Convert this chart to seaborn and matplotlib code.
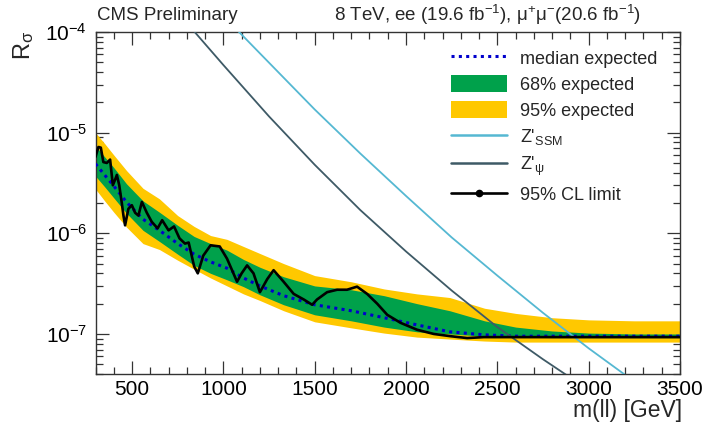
import matplotlib
matplotlib.use("Agg")
import matplotlib.pyplot as plt
import seaborn as sns
from matplotlib.lines import Line2D
from matplotlib.patches import Patch
from matplotlib.ticker import MultipleLocator, LogLocator, NullFormatter

# expected limit bands
mass_exp = [300, 350, 400, 470, 560, 650, 750, 840, 930, 1020, 1110, 1200,
            1330, 1500, 1700, 1880, 2060, 2240, 2430, 2600, 2800, 3000, 3250, 3500]
median_exp = [4.9e-6, 3.8e-6, 2.95e-6, 2.04e-6, 1.38e-6, 1.07e-6, 7.9e-7, 6.2e-7,
              5.2e-7, 4.5e-7, 3.6e-7, 3.0e-7, 2.4e-7, 1.95e-7, 1.7e-7, 1.45e-7,
              1.23e-7, 1.05e-7, 9.8e-8, 9.5e-8, 9.5e-8, 9.5e-8, 9.5e-8, 9.5e-8]
up95 = [1.0e-5, 7.8e-6, 6.0e-6, 4.2e-6, 2.8e-6, 2.2e-6, 1.5e-6, 1.17e-6, 9.5e-7,
        8.7e-7, 7.4e-7, 6.3e-7, 5.0e-7, 3.8e-7, 3.3e-7, 2.8e-7, 2.5e-7, 2.3e-7,
        1.8e-7, 1.6e-7, 1.45e-7, 1.38e-7, 1.35e-7, 1.35e-7]
up68 = [7.4e-6, 5.75e-6, 4.5e-6, 3.1e-6, 2.1e-6, 1.62e-6, 1.2e-6, 9.3e-7, 7.9e-7,
        6.8e-7, 5.5e-7, 4.6e-7, 3.7e-7, 3.0e-7, 2.75e-7, 2.4e-7, 2.0e-7, 1.7e-7,
        1.35e-7, 1.17e-7, 1.07e-7, 1.02e-7, 1.0e-7, 1.0e-7]
lo68 = [3.7e-6, 2.9e-6, 2.25e-6, 1.58e-6, 1.07e-6, 8.3e-7, 6.2e-7, 4.8e-7, 4.0e-7,
        3.45e-7, 2.95e-7, 2.45e-7, 1.95e-7, 1.55e-7, 1.35e-7, 1.17e-7, 1.05e-7,
        1.0e-7, 9.5e-8, 9.3e-8, 9.2e-8, 9.2e-8, 9.2e-8, 9.2e-8]
lo95 = [2.75e-6, 2.1e-6, 1.62e-6, 1.15e-6, 7.9e-7, 6.9e-7, 5.4e-7, 4.4e-7, 3.6e-7,
        3.0e-7, 2.5e-7, 2.15e-7, 1.7e-7, 1.32e-7, 1.15e-7, 1.02e-7, 9.3e-8, 8.9e-8,
        8.5e-8, 8.3e-8, 8.3e-8, 8.3e-8, 8.3e-8, 8.3e-8]

# observed 95% CL limit
mass_obs = [300, 316, 329, 343, 362, 380, 395, 407, 417, 430, 444, 453, 462, 480,
            499, 517, 535, 554, 581, 608, 640, 665, 700, 730, 760, 790, 810, 840,
            860, 890, 930, 980, 1020, 1050, 1075, 1100, 1130, 1165, 1200, 1240,
            1275, 1330, 1385, 1440, 1486, 1513, 1568, 1623, 1677, 1732, 1787,
            1842, 1897, 1970, 2061, 2152, 2243, 2335, 2426, 2517, 2700, 2900,
            3100, 3300, 3420, 3500]
limit_obs = [5.75e-6, 7.2e-6, 7.1e-6, 5.1e-6, 5.0e-6, 5.4e-6, 3.0e-6, 3.4e-6,
             3.8e-6, 3.0e-6, 2.0e-6, 1.5e-6, 1.2e-6, 1.75e-6, 1.9e-6, 1.6e-6,
             1.5e-6, 2.05e-6, 1.6e-6, 1.3e-6, 1.12e-6, 1.35e-6, 1.07e-6, 1.17e-6,
             8.9e-7, 7.9e-7, 8.1e-7, 4.7e-7, 4.0e-7, 6.0e-7, 7.6e-7, 7.4e-7,
             5.6e-7, 4.2e-7, 3.3e-7, 4.0e-7, 4.8e-7, 4.0e-7, 2.6e-7, 3.5e-7,
             4.3e-7, 3.3e-7, 2.5e-7, 2.2e-7, 1.95e-7, 2.2e-7, 2.6e-7, 2.75e-7,
             2.75e-7, 2.95e-7, 2.5e-7, 2.0e-7, 1.55e-7, 1.29e-7, 1.10e-7, 1.0e-7,
             9.5e-8, 9.1e-8, 9.3e-8, 9.3e-8, 9.3e-8, 9.3e-8, 9.3e-8, 9.3e-8,
             9.3e-8, 9.3e-8]

# theory curves
mass_ssm = [1000, 1086, 1300, 1500, 1750, 2000, 2250, 2500, 2750, 3000, 3193, 3250]
xsec_ssm = [1.4e-4, 1.0e-4, 4.0e-5, 1.7e-5, 6.2e-6, 2.35e-6, 9.1e-7, 3.8e-7,
            1.62e-7, 7.2e-8, 4.0e-8, 3.3e-8]
mass_psi = [800, 1000, 1250, 1500, 1750, 2000, 2250, 2500, 2750, 2950]
xsec_psi = [1.23e-4, 4.7e-5, 1.45e-5, 4.8e-6, 1.7e-6, 6.6e-7, 2.7e-7, 1.17e-7,
            5.6e-8, 3.2e-8]

c_green = "#00a14b"
c_yellow = "#ffc800"
c_blue = "#0000cc"
c_ssm = "#55b8d2"
c_psi = "#3e5a66"

sns.set_theme(style="ticks")
plt.rcParams["font.family"] = ["Liberation Sans", "DejaVu Sans"]
plt.rcParams["mathtext.fontset"] = "custom"
plt.rcParams["mathtext.rm"] = "Liberation Sans"
plt.rcParams["mathtext.it"] = "Liberation Sans:italic"
plt.rcParams["mathtext.default"] = "regular"

fig = plt.figure(figsize=(7.09, 4.25), dpi=100)
ax = fig.add_axes([95.5 / 709, 51 / 425, 584.5 / 709, 342 / 425])
ax.set_yscale("log")

ax.fill_between(mass_exp, lo95, up95, color=c_yellow, lw=0, zorder=1)
ax.fill_between(mass_exp, lo68, up68, color=c_green, lw=0, zorder=2)
sns.lineplot(x=mass_exp, y=median_exp, ax=ax, color=c_blue, lw=2.2,
             linestyle=(0, (1, 1.4)), estimator=None, zorder=3)
sns.lineplot(x=mass_ssm, y=xsec_ssm, ax=ax, color=c_ssm, lw=1.3,
             estimator=None, zorder=4)
sns.lineplot(x=mass_psi, y=xsec_psi, ax=ax, color=c_psi, lw=1.3,
             estimator=None, zorder=4)
sns.lineplot(x=mass_obs, y=limit_obs, ax=ax, color="black", lw=1.9,
             estimator=None, zorder=5)

ax.set_xlim(300, 3500)
ax.set_ylim(4e-8, 1e-4)
ax.xaxis.set_major_locator(MultipleLocator(500))
ax.xaxis.set_minor_locator(MultipleLocator(100))
ax.yaxis.set_major_locator(LogLocator(base=10, numticks=10))
ax.yaxis.set_minor_locator(LogLocator(base=10, subs=range(2, 10), numticks=20))
ax.yaxis.set_minor_formatter(NullFormatter())
ax.tick_params(which="both", direction="in", top=True, right=True, colors="#333333")
ax.tick_params(which="major", length=9.5, width=0.9, labelsize=15, labelcolor="black")
ax.tick_params(which="minor", length=4.8, width=0.9)
ax.tick_params(axis="x", pad=4)
ax.tick_params(axis="y", pad=6)
for s in ax.spines.values():
    s.set_color("#333333")
    s.set_linewidth(1.0)
ax.set_xlabel("")
ax.set_ylabel("")

fig.text(24 / 709, 1 - 45 / 425, r"R$_\sigma$", rotation=90, ha="center",
         va="center", fontsize=17)
fig.text(682 / 709, 1 - 410 / 425, "m(ll) [GeV]", ha="right", va="center",
         fontsize=16.5)
fig.text(97 / 709, 1 - 15 / 425, "CMS Preliminary", ha="left", va="center",
         fontsize=13.5)
fig.text(641 / 709, 1 - 15 / 425,
         r"8 TeV, ee (19.6 fb$^{-1}$), $\mu^{+}\mu^{-}$(20.6 fb$^{-1}$)",
         ha="right", va="center", fontsize=13.5)

handles = [
    Line2D([], [], color=c_blue, lw=2.2, linestyle=(0, (1, 1.4))),
    Patch(facecolor=c_green, edgecolor="none"),
    Patch(facecolor=c_yellow, edgecolor="none"),
    Line2D([], [], color=c_ssm, lw=1.8),
    Line2D([], [], color=c_psi, lw=1.8),
    Line2D([], [], color="black", lw=1.9, marker="o", markersize=4.5),
]
labels = ["median expected", "68% expected", "95% expected",
          r"Z'$_{\mathrm{SSM}}$", r"Z'$_{\psi}$", "95% CL limit"]
ax.legend(handles, labels, loc="upper left", bbox_to_anchor=(451 / 709, 1 - 49 / 425),
          bbox_transform=fig.transFigure, frameon=False, fontsize=13,
          handlelength=3.1, handleheight=1.05, handletextpad=0.7,
          labelspacing=0.42, borderpad=0, borderaxespad=0, numpoints=1)

fig.savefig("out.png", dpi=100)
